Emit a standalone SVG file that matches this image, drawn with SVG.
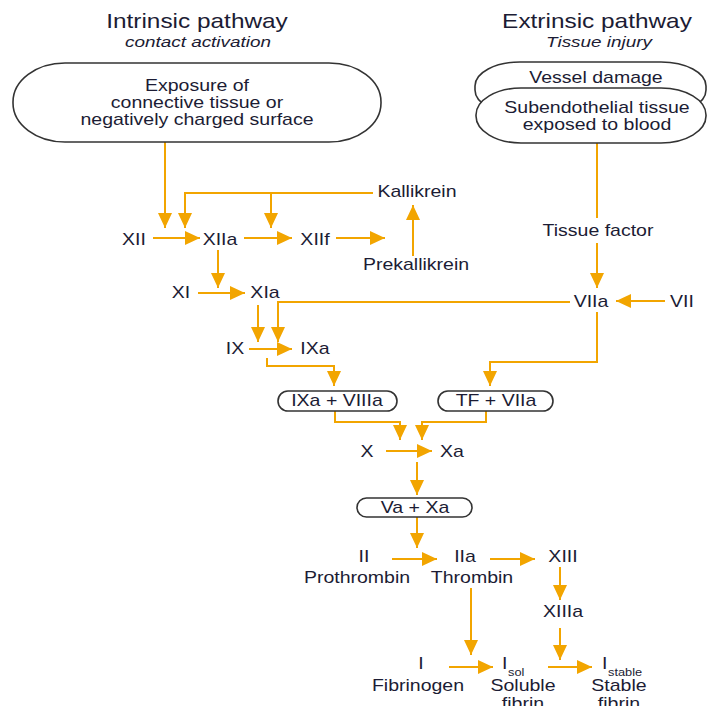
<svg xmlns="http://www.w3.org/2000/svg" width="707" height="706" viewBox="0 0 707 706">
<style>
text{font-family:"Liberation Sans",Arial,sans-serif;font-size:16px;fill:#1c1c34;text-anchor:middle}
.title{font-size:20px}
.sub{font-style:italic;font-size:15.5px}
.s{font-size:10.5px;text-anchor:start}
.st{text-anchor:start}
.box{fill:#fff;stroke:#333;stroke-width:1.6}
.c{fill:none;stroke:#F2A500;stroke-width:2}
.a{marker-end:url(#ah)}
</style>
<defs>
<marker id="ah" viewBox="0 0 15 14" refX="15" refY="7" markerWidth="15" markerHeight="14" markerUnits="userSpaceOnUse" orient="auto">
<path d="M0,0 L15,7 L0,14 z" fill="#F2A500"/>
</marker>
</defs>
<rect width="707" height="706" fill="#fff"/>
<g id="titles">
<text class="title" transform="translate(197,28) scale(1.22,1)">Intrinsic pathway</text>
<text class="sub" transform="translate(198,47) scale(1.22,1)">contact activation</text>
<text class="title" transform="translate(597,28) scale(1.22,1)">Extrinsic pathway</text>
<text class="sub" transform="translate(599,47) scale(1.22,1)">Tissue injury</text>
</g>
<g id="connectors">
<path class="c a" d="M165,142 V228"/>
<path class="c a" d="M373,193 H185 V228"/>
<path class="c a" d="M271,193 V228"/>
<path class="c a" d="M153,238 H200"/>
<path class="c a" d="M244,238 H292"/>
<path class="c a" d="M336,238 H385"/>
<path class="c a" d="M413,256 V205"/>
<path class="c a" d="M218,250 V288"/>
<path class="c a" d="M198,293 H245"/>
<path class="c a" d="M258,305 V342"/>
<path class="c a" d="M570,302 H278 V342"/>
<path class="c a" d="M249,349 H292"/>
<path class="c a" d="M267,358 V366 H334 V386"/>
<path class="c" d="M597,143 V218"/>
<path class="c a" d="M597,243 V288"/>
<path class="c a" d="M665,301 H616"/>
<path class="c a" d="M597,312 V362 H490 V386"/>
<path class="c a" d="M335,411 V422 H400 V440"/>
<path class="c a" d="M486,411 V422 H422 V440"/>
<path class="c a" d="M386,451 H432"/>
<path class="c a" d="M417,462 V495"/>
<path class="c a" d="M417,517 V548"/>
<path class="c a" d="M392,559 H437"/>
<path class="c a" d="M490,559 H535"/>
<path class="c a" d="M560,567 V600"/>
<path class="c a" d="M560,628 V660"/>
<path class="c a" d="M471,588 V655"/>
<path class="c a" d="M449,667 H493"/>
<path class="c a" d="M548,667 H592"/>
</g>
<g id="exposure">
<rect class="box" x="13" y="63" width="368" height="79" rx="52" ry="39"/>
<text transform="translate(197,91) scale(1.22,1)">Exposure of</text>
<text transform="translate(197,108) scale(1.22,1)">connective tissue or</text>
<text transform="translate(197,125) scale(1.22,1)">negatively charged surface</text>
</g>
<g id="vessel">
<rect class="box" x="475" y="62" width="231" height="52" rx="45" ry="24"/>
<text transform="translate(596,83) scale(1.22,1)">Vessel damage</text>
</g>
<g id="subendothelial">
<rect class="box" x="476" y="88" width="230" height="55" rx="45" ry="27"/>
<text transform="translate(597,113) scale(1.22,1)">Subendothelial tissue</text>
<text transform="translate(597,130) scale(1.22,1)">exposed to blood</text>
</g>
<g id="kallikrein"><text transform="translate(417,197) scale(1.22,1)">Kallikrein</text></g>
<g id="prekallikrein"><text transform="translate(416,270) scale(1.22,1)">Prekallikrein</text></g>
<g id="XII"><text transform="translate(134,245) scale(1.22,1)">XII</text></g>
<g id="XIIa"><text transform="translate(220,245) scale(1.22,1)">XIIa</text></g>
<g id="XIIf"><text transform="translate(315,245) scale(1.22,1)">XIIf</text></g>
<g id="XI"><text transform="translate(181,298) scale(1.22,1)">XI</text></g>
<g id="XIa"><text transform="translate(265,298) scale(1.22,1)">XIa</text></g>
<g id="IX"><text transform="translate(235,354) scale(1.22,1)">IX</text></g>
<g id="IXa"><text transform="translate(315,354) scale(1.22,1)">IXa</text></g>
<g id="tissuefactor"><text transform="translate(598,236) scale(1.22,1)">Tissue factor</text></g>
<g id="VIIa"><text transform="translate(591,307) scale(1.22,1)">VIIa</text></g>
<g id="VII"><text transform="translate(682,307) scale(1.22,1)">VII</text></g>
<g id="IXaVIIIa">
<rect class="box" x="278" y="391" width="119" height="20" rx="10"/>
<text transform="translate(337,406) scale(1.22,1)">IXa + VIIIa</text>
</g>
<g id="TFVIIa">
<rect class="box" x="438" y="391" width="115" height="20" rx="10"/>
<text transform="translate(496,406) scale(1.22,1)">TF + VIIa</text>
</g>
<g id="X"><text transform="translate(367,457) scale(1.22,1)">X</text></g>
<g id="Xa"><text transform="translate(452,457) scale(1.22,1)">Xa</text></g>
<g id="VaXa">
<rect class="box" x="357" y="498" width="115" height="19" rx="9.5"/>
<text transform="translate(415,513) scale(1.22,1)">Va + Xa</text>
</g>
<g id="II">
<text transform="translate(364,562) scale(1.22,1)">II</text>
<text transform="translate(357,583) scale(1.22,1)">Prothrombin</text>
</g>
<g id="IIa">
<text transform="translate(465,562) scale(1.22,1)">IIa</text>
<text transform="translate(472,583) scale(1.22,1)">Thrombin</text>
</g>
<g id="XIII"><text transform="translate(563,562) scale(1.22,1)">XIII</text></g>
<g id="XIIIa"><text transform="translate(563,617) scale(1.22,1)">XIIIa</text></g>
<g id="I">
<text transform="translate(421,669) scale(1.22,1)">I</text>
<text transform="translate(418,691) scale(1.22,1)">Fibrinogen</text>
</g>
<g id="Isol">
<text class="st" transform="translate(502,669) scale(1.22,1)">I</text>
<text class="s" transform="translate(508,676) scale(1.22,1)">sol</text>
<text transform="translate(523,691) scale(1.22,1)">Soluble</text>
<text transform="translate(523,709) scale(1.22,1)">fibrin</text>
</g>
<g id="Istable">
<text class="st" transform="translate(602,669) scale(1.22,1)">I</text>
<text class="s" transform="translate(608,676) scale(1.22,1)">stable</text>
<text transform="translate(619,691) scale(1.22,1)">Stable</text>
<text transform="translate(619,709) scale(1.22,1)">fibrin</text>
</g>
</svg>
